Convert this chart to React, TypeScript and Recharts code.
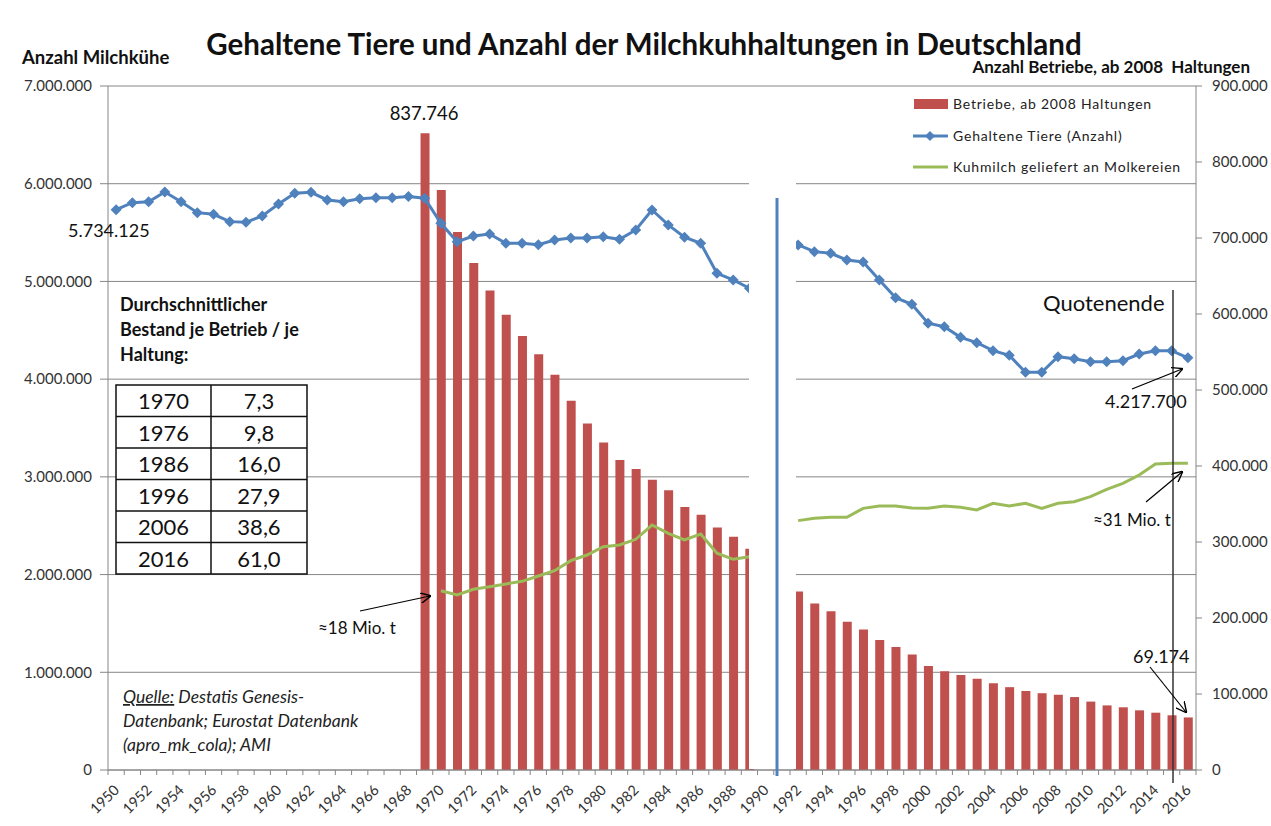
import {
  ComposedChart,
  Bar,
  Line,
  XAxis,
  YAxis,
  CartesianGrid,
} from 'recharts';

const YEARS = [
  '1950', '1951', '1952', '1953', '1954', '1955', '1956', '1957', '1958', '1959',
  '1960', '1961', '1962', '1963', '1964', '1965', '1966', '1967', '1968', '1969',
  '1970', '1971', '1972', '1973', '1974', '1975', '1976', '1977', '1978', '1979',
  '1980', '1981', '1982', '1983', '1984', '1985', '1986', '1987', '1988', '1989',
  '1990', '1991', '1992', '1993', '1994', '1995', '1996', '1997', '1998', '1999',
  '2000', '2001', '2002', '2003', '2004', '2005', '2006', '2007', '2008', '2009',
  '2010', '2011', '2012', '2013', '2014', '2015', '2016',
];

// Gehaltene Tiere (Anzahl) - linke Achse
const COWS: (number | null)[] = [
  5734125, 5806000, 5816000, 5915000, 5816000, 5704000, 5687000, 5612000, 5605000, 5670000,
  5793000, 5902000, 5912000, 5834000, 5816000, 5847000, 5857000, 5857000, 5868000, 5851000,
  5595000, 5407000, 5465000, 5486000, 5390000, 5390000, 5376000, 5424000, 5445000, 5445000,
  5458000, 5431000, 5527000, 5731000, 5578000, 5452000, 5390000, 5083000, 5015000, 4930000,
  null, null, 5373000, 5305000, 5288000, 5220000, 5199000, 5015000, 4834000, 4766000,
  4572000, 4537000, 4428000, 4373000, 4291000, 4244000, 4070000, 4070000, 4230000, 4209000,
  4179000, 4179000, 4189000, 4257000, 4291000, 4291000, 4217700,
];

// Betriebe, ab 2008 Haltungen - rechte Achse
const FARMS: (number | null)[] = [
  null, null, null, null, null, null, null, null, null, null,
  null, null, null, null, null, null, null, null, null, 837746,
  763000, 708000, 667000, 631000, 599000, 571000, 547000, 520000, 486000, 456000,
  431000, 408000, 396000, 382000, 368000, 346000, 336000, 319000, 307000, 291000,
  null, null, 235000, 219000, 209000, 195000, 185000, 171000, 162000, 152000,
  137000, 130000, 125000, 120000, 114000, 109000, 104000, 101000, 99000, 96000,
  90000, 85000, 82500, 78500, 75400, 72000, 69174,
];

// Kuhmilch geliefert an Molkereien - linke Achse
const MILK: (number | null)[] = [
  null, null, null, null, null, null, null, null, null, null,
  null, null, null, null, null, null, null, null, null, null,
  1835000, 1791000, 1849000, 1876000, 1904000, 1931000, 1985000, 2040000, 2142000, 2200000,
  2285000, 2303000, 2361000, 2507000, 2422000, 2354000, 2415000, 2218000, 2156000, 2183000,
  null, null, 2552000, 2576000, 2586000, 2586000, 2678000, 2702000, 2702000, 2681000,
  2678000, 2702000, 2688000, 2661000, 2729000, 2702000, 2729000, 2678000, 2729000, 2746000,
  2797000, 2873000, 2934000, 3019000, 3132000, 3139000, 3139000,
];

const LEFT_TICKS = [0, 1000000, 2000000, 3000000, 4000000, 5000000, 6000000, 7000000];
const RIGHT_TICKS = [0, 100000, 200000, 300000, 400000, 500000, 600000, 700000, 800000, 900000];

const AVG_YEARS = ['1970', '1976', '1986', '1996', '2006', '2016'];
const AVG_VALUES = ['7,3', '9,8', '16,0', '27,9', '38,6', '61,0'];

const RED = '#C0504D';
const BLUE = '#4F81BD';
const GREEN = '#9BBB59';
const GRID = '#868686';
const TEXT = '#111111';
const FONT = 'Lato, "Open Sans", sans-serif';

const W = 1271;
const H = 826;
const PLOT_W = 1088;
const BAND = PLOT_W / YEARS.length;

const data = YEARS.map((year, i) => ({
  year,
  cows: COWS[i],
  farms: FARMS[i],
  milk: MILK[i],
}));

const fmt = (v: number) => String(Math.round(v)).replace(/\B(?=(\d{3})+(?!\d))/g, '.');

function Diamond(props: any) {
  const { cx, cy, index, payload } = props;
  if (cx == null || cy == null || payload?.cows == null) return <g key={`d-${index}`} />;
  const r = 5.5;
  return (
    <polygon
      key={`d-${index}`}
      points={`${cx},${cy - r} ${cx + r},${cy} ${cx},${cy + r} ${cx - r},${cy}`}
      fill={BLUE}
    />
  );
}

function YearTick(props: any) {
  const { x, y, payload, index } = props;
  const ax = x + 4;
  const ay = y + 21;
  return (
    <g>
      <line x1={x + BAND / 2} y1={y} x2={x + BAND / 2} y2={y + 5} stroke={GRID} />
      {index === 0 && <line x1={x - BAND / 2} y1={y} x2={x - BAND / 2} y2={y + 5} stroke={GRID} />}
      {index % 2 === 0 && (
        <text
          x={ax}
          y={ay}
          textAnchor="end"
          transform={`rotate(-45 ${ax} ${ay})`}
          fontSize={14.5}
          fontFamily={FONT}
          fill="#333"
        >
          {payload.value}
        </text>
      )}
    </g>
  );
}

function Overlay() {
  return (
    <svg
      width={W}
      height={H}
      style={{ position: 'absolute', left: 0, top: 0, pointerEvents: 'none' }}
      fontFamily={FONT}
    >
      <defs>
        <marker id="arr" viewBox="0 0 10 10" refX="9" refY="5" markerWidth="9" markerHeight="9" orient="auto">
          <path d="M0,0 L10,5 L0,10" fill="none" stroke="#000" strokeWidth={1.3} />
        </marker>
      </defs>

      {/* Lücke 1990/1991 */}
      <rect x={749} y={87} width={47} height={682} fill="#fff" />
      <line x1={777} y1={198} x2={777} y2={776} stroke={BLUE} strokeWidth={3} />

      {/* Titel */}
      <text x={644} y={55} textAnchor="middle" fontSize={29.5} fontWeight={700} fill={TEXT}>
        Gehaltene Tiere und Anzahl der Milchkuhhaltungen in Deutschland
      </text>
      <text x={22} y={64} fontSize={18.5} fontWeight={700} fill={TEXT}>
        Anzahl Milchkühe
      </text>
      <text x={1250} y={73} textAnchor="end" fontSize={17} fontWeight={700} fill={TEXT} style={{ whiteSpace: 'pre' }}>
        {'Anzahl Betriebe, ab 2008  Haltungen'}
      </text>

      {/* Legende */}
      <rect x={914} y={99} width={34} height={10} fill={RED} />
      <text x={953} y={108.5} fontSize={14} letterSpacing={0.8} fill="#222">
        Betriebe, ab 2008 Haltungen
      </text>
      <line x1={913} y1={136} x2={948} y2={136} stroke={BLUE} strokeWidth={3} />
      <polygon points="930,131 935,136 930,141 925,136" fill={BLUE} />
      <text x={953} y={140.5} fontSize={14} letterSpacing={0.8} fill="#222">
        Gehaltene Tiere (Anzahl)
      </text>
      <line x1={913} y1={167} x2={948} y2={167} stroke={GREEN} strokeWidth={3} />
      <text x={953} y={171.5} fontSize={14} letterSpacing={0.8} fill="#222">
        Kuhmilch geliefert an Molkereien
      </text>

      {/* Durchschnittlicher Bestand */}
      <text x={120} y={311} fontSize={18} fontWeight={700} fill={TEXT}>
        Durchschnittlicher
      </text>
      <text x={120} y={336} fontSize={18} fontWeight={700} fill={TEXT}>
        Bestand je Betrieb / je
      </text>
      <text x={120} y={361} fontSize={18} fontWeight={700} fill={TEXT}>
        Haltung:
      </text>
      <rect x={116} y={385} width={191} height={189} fill="#fff" stroke="#111" strokeWidth={1.5} />
      <line x1={211} y1={385} x2={211} y2={574} stroke="#111" strokeWidth={1.5} />
      {AVG_YEARS.map((yr, i) => (
        <g key={yr}>
          {i > 0 && (
            <line x1={116} y1={385 + i * 31.5} x2={307} y2={385 + i * 31.5} stroke="#111" strokeWidth={1.5} />
          )}
          <text x={163.5} y={409 + i * 31.5} textAnchor="middle" fontSize={22} fill={TEXT}>
            {yr}
          </text>
          <text x={259} y={409 + i * 31.5} textAnchor="middle" fontSize={22} fill={TEXT}>
            {AVG_VALUES[i]}
          </text>
        </g>
      ))}

      {/* Quelle */}
      <text x={123} y={703} fontSize={17.5} fontStyle="italic" fill="#222">
        <tspan textDecoration="underline">Quelle:</tspan> Destatis Genesis-
      </text>
      <text x={123} y={727} fontSize={17.5} fontStyle="italic" fill="#222">
        Datenbank; Eurostat Datenbank
      </text>
      <text x={123} y={751} fontSize={17.5} fontStyle="italic" fill="#222">
        (apro_mk_cola); AMI
      </text>

      {/* Werte-Beschriftungen */}
      <text x={424} y={120} textAnchor="middle" fontSize={18.5} fill={TEXT}>
        837.746
      </text>
      <text x={68} y={237} fontSize={18} fill={TEXT}>
        5.734.125
      </text>
      <text x={1105} y={408} fontSize={18} fill={TEXT}>
        4.217.700
      </text>
      <text x={1133} y={663} fontSize={18} fill={TEXT}>
        69.174
      </text>
      <text x={1043} y={311} fontSize={22} fill={TEXT}>
        Quotenende
      </text>
      <text x={1093} y={526} fontSize={17} fill={TEXT}>
        ≈31 Mio. t
      </text>
      <text x={318} y={634} fontSize={17} fill={TEXT}>
        ≈18 Mio. t
      </text>

      {/* Quotenende-Linie und Pfeile */}
      <line x1={1173} y1={290} x2={1173} y2={783} stroke="#333" strokeWidth={1.5} />
      <line x1={1132} y1={389} x2={1182} y2={369} stroke="#000" strokeWidth={1.2} markerEnd="url(#arr)" />
      <line x1={1146} y1={502} x2={1182} y2={472} stroke="#000" strokeWidth={1.2} markerEnd="url(#arr)" />
      <line x1={1150} y1={667} x2={1186} y2={712} stroke="#000" strokeWidth={1.2} markerEnd="url(#arr)" />
      <line x1={360} y1={611} x2={430} y2={596} stroke="#000" strokeWidth={1.2} markerEnd="url(#arr)" />
    </svg>
  );
}

export default function App() {
  return (
    <div style={{ position: 'absolute', left: 0, top: 0, width: W, height: H, background: '#fff' }}>
      <ComposedChart
        width={W}
        height={H}
        data={data}
        margin={{ top: 86, right: 0, bottom: 0, left: 0 }}
        barCategoryGap={0}
      >
        <CartesianGrid yAxisId="left" vertical={false} stroke={GRID} />
        <XAxis
          dataKey="year"
          height={56}
          interval={0}
          tickLine={false}
          tickSize={0}
          tickMargin={0}
          axisLine={{ stroke: GRID }}
          tick={<YearTick />}
        />
        <YAxis
          yAxisId="left"
          width={108}
          domain={[0, 7000000]}
          ticks={LEFT_TICKS}
          tickFormatter={fmt}
          tickSize={8}
          tickMargin={8}
          axisLine={{ stroke: GRID }}
          tickLine={{ stroke: GRID }}
          tick={{ fontSize: 15, fill: '#333', fontFamily: FONT }}
        />
        <YAxis
          yAxisId="right"
          orientation="right"
          width={75}
          domain={[0, 900000]}
          ticks={RIGHT_TICKS}
          tickFormatter={fmt}
          tickSize={6}
          tickMargin={10}
          axisLine={{ stroke: GRID }}
          tickLine={{ stroke: GRID }}
          tick={{ fontSize: 15, fill: '#333', fontFamily: FONT }}
        />
        <Bar yAxisId="right" dataKey="farms" fill={RED} barSize={9} isAnimationActive={false} />
        <Line
          yAxisId="left"
          type="linear"
          dataKey="milk"
          stroke={GREEN}
          strokeWidth={3}
          dot={false}
          isAnimationActive={false}
        />
        <Line
          yAxisId="left"
          type="linear"
          dataKey="cows"
          stroke={BLUE}
          strokeWidth={3}
          dot={(p: any) => <Diamond {...p} />}
          isAnimationActive={false}
        />
      </ComposedChart>
      <Overlay />
    </div>
  );
}
